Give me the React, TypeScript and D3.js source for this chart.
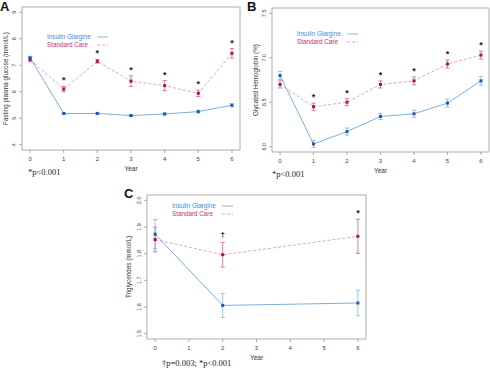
import React from "react";
import * as d3 from "d3";

const yearsAB = [0, 1, 2, 3, 4, 5, 6];
const yearsC = [0, 2, 6];

const aGlargine = [7.28, 5.18, 5.18, 5.1, 5.16, 5.25, 5.49];
const aGlargineErr = [0.06, 0.04, 0.04, 0.04, 0.04, 0.05, 0.06];
const aStandard = [7.21, 6.1, 7.15, 6.4, 6.23, 5.94, 7.45];
const aStandardErr = [0.08, 0.1, 0.07, 0.2, 0.19, 0.12, 0.18];
const aMarks = ["", "*", "*", "*", "*", "*", "*"];
const aTicks = [4, 5, 6, 7, 8, 9];

const bGlargine = [6.8, 6.03, 6.17, 6.34, 6.37, 6.49, 6.74];
const bGlargineErr = [0.045, 0.04, 0.04, 0.035, 0.04, 0.045, 0.05];
const bStandard = [6.7, 6.45, 6.5, 6.7, 6.74, 6.93, 7.03];
const bStandardErr = [0.04, 0.04, 0.04, 0.04, 0.045, 0.045, 0.045];
const bMarks = ["", "*", "*", "*", "*", "*", "*"];
const bTicks = [6.0, 6.5, 7.0, 7.5];

const cGlargine = [1.873, 1.606, 1.615];
const cGlargineErr = [0.055, 0.045, 0.048];
const cStandard = [1.853, 1.796, 1.865];
const cStandardErr = [0.046, 0.046, 0.064];
const cMarks = ["", "\u2020", "*"];
const cTicks = [1.5, 1.6, 1.7, 1.8, 1.9, 2.0];

const xTicks = [0, 1, 2, 3, 4, 5, 6];

const BLUE_LINE = "#6aa6d8";
const BLUE_PT = "#1f5aa6";
const BLUE_ERR = "#6aaee0";
const PINK_LINE = "#e08ab4";
const PINK_PT = "#a8125a";
const PINK_ERR = "#cc4a8a";
const SANS = "'Liberation Sans', Arial, sans-serif";
const SERIF = "'Liberation Serif', 'Times New Roman', serif";

type PanelProps = {
  letter: string;
  letterX: number;
  letterY: number;
  frame: { l: number; r: number; t: number; b: number };
  yMin: number;
  yMax: number;
  yTicks: number[];
  fmt: (v: number) => string;
  years: number[];
  ig: number[];
  igErr: number[];
  sc: number[];
  scErr: number[];
  marks: string[];
  yLabel: string;
  yLabelX: number;
  legendX: number;
  legendY: number;
  note: string;
  noteX: number;
  noteY: number;
};

function Panel(p: PanelProps) {
  const { l, r, t, b } = p.frame;
  const xPad = 6 * 0.04;
  const yPad = (p.yMax - p.yMin) * 0.04;
  const x = d3.scaleLinear().domain([0 - xPad, 6 + xPad]).range([l, r]);
  const y = d3.scaleLinear().domain([p.yMin - yPad, p.yMax + yPad]).range([b, t]);
  const line = d3
    .line<number>()
    .x((_, i) => x(p.years[i]))
    .y((d) => y(d));
  const cap = 2.2;
  const errBars = (vals: number[], errs: number[], color: string) =>
    vals.map((v, i) => {
      const cx = x(p.years[i]);
      const y1 = y(v + errs[i]);
      const y2 = y(v - errs[i]);
      return (
        <g key={"e" + color + i} stroke={color} strokeWidth={0.7}>
          <line x1={cx} x2={cx} y1={y1} y2={y2} />
          <line x1={cx - cap} x2={cx + cap} y1={y1} y2={y1} />
          <line x1={cx - cap} x2={cx + cap} y1={y2} y2={y2} />
        </g>
      );
    });
  const pts = (vals: number[], color: string) =>
    vals.map((v, i) => (
      <rect
        key={"p" + color + i}
        x={x(p.years[i]) - 1.5}
        y={y(v) - 1.5}
        width={3}
        height={3}
        fill={color}
      />
    ));
  const cy = (t + b) / 2;
  return (
    <g>
      <text x={p.letterX} y={p.letterY} fontFamily={SANS} fontWeight="bold" fontSize={13} fill="#111">
        {p.letter}
      </text>
      <rect x={l} y={t} width={r - l} height={b - t} fill="none" stroke="#9a9a9a" strokeWidth={0.8} />
      {p.yTicks.map((v) => (
        <g key={"yt" + v}>
          <line x1={l - 3} x2={l} y1={y(v)} y2={y(v)} stroke="#777" strokeWidth={0.6} />
          <text
            transform={`translate(${l - 6},${y(v)}) rotate(-90)`}
            textAnchor="middle"
            fontFamily={SANS}
            fontSize={5.5}
            fill="#444"
          >
            {p.fmt(v)}
          </text>
        </g>
      ))}
      {xTicks.map((v) => (
        <g key={"xt" + v}>
          <line x1={x(v)} x2={x(v)} y1={b} y2={b + 3} stroke="#777" strokeWidth={0.6} />
          <text x={x(v)} y={b + 11} textAnchor="middle" fontFamily={SANS} fontSize={6} fill="#444">
            {v}
          </text>
        </g>
      ))}
      <text x={(l + r) / 2} y={b + 21} textAnchor="middle" fontFamily={SANS} fontSize={6.5} fill="#333">
        Year
      </text>
      <text
        transform={`translate(${p.yLabelX},${cy}) rotate(-90)`}
        textAnchor="middle"
        fontFamily={SANS}
        fontSize={6.3}
        fill="#333"
      >
        {p.yLabel}
      </text>
      <path d={line(p.sc) || ""} fill="none" stroke={PINK_LINE} strokeWidth={0.8} strokeDasharray="3,2" />
      <path d={line(p.ig) || ""} fill="none" stroke={BLUE_LINE} strokeWidth={0.9} />
      {errBars(p.sc, p.scErr, PINK_ERR)}
      {errBars(p.ig, p.igErr, BLUE_ERR)}
      {pts(p.sc, PINK_PT)}
      {pts(p.ig, BLUE_PT)}
      {p.marks.map((m, i) =>
        m ? (
          <text
            key={"m" + i}
            x={x(p.years[i])}
            y={y(Math.max(p.sc[i] + p.scErr[i], p.ig[i] + p.igErr[i])) - (m === "*" ? 3 : 5)}
            textAnchor="middle"
            fontFamily={SANS}
            fontSize={m === "*" ? 9 : 8}
            fontWeight="bold"
            fill="#222"
          >
            {m}
          </text>
        ) : null
      )}
      <g fontFamily={SANS} fontSize={6.3}>
        <text x={p.legendX} y={p.legendY} fill="#3a8fd6">
          Insulin Glargine
        </text>
        <text x={p.legendX} y={p.legendY + 8} fill="#c0307a">
          Standard Care
        </text>
        <line
          x1={p.legendX + 50}
          x2={p.legendX + 61}
          y1={p.legendY - 2}
          y2={p.legendY - 2}
          stroke={BLUE_LINE}
          strokeWidth={0.8}
        />
        <line
          x1={p.legendX + 50}
          x2={p.legendX + 61}
          y1={p.legendY + 6}
          y2={p.legendY + 6}
          stroke={PINK_LINE}
          strokeWidth={0.8}
          strokeDasharray="3,2"
        />
      </g>
      <text x={p.noteX} y={p.noteY} fontFamily={SERIF} fontSize={8.5} fill="#222">
        {p.note}
      </text>
    </g>
  );
}

export default function App() {
  return (
    <svg
      width={490}
      height={370}
      style={{ position: "absolute", left: 0, top: 0, background: "#fff" }}
    >
      <Panel
        letter="A"
        letterX={0}
        letterY={11}
        frame={{ l: 22, r: 240, t: 7, b: 150 }}
        yMin={4}
        yMax={9}
        yTicks={aTicks}
        fmt={(v) => String(v)}
        years={yearsAB}
        ig={aGlargine}
        igErr={aGlargineErr}
        sc={aStandard}
        scErr={aStandardErr}
        marks={aMarks}
        yLabel="Fasting plasma glucose (mmol/L)"
        yLabelX={8}
        legendX={47}
        legendY={39}
        note="*p<0.001"
        noteX={28}
        noteY={175}
      />
      <Panel
        letter="B"
        letterX={247}
        letterY={11}
        frame={{ l: 272, r: 489, t: 8, b: 152 }}
        yMin={6}
        yMax={7.5}
        yTicks={bTicks}
        fmt={(v) => v.toFixed(1)}
        years={yearsAB}
        ig={bGlargine}
        igErr={bGlargineErr}
        sc={bStandard}
        scErr={bStandardErr}
        marks={bMarks}
        yLabel="Glycated Hemoglobin (%)"
        yLabelX={258}
        legendX={297}
        legendY={36}
        note="*p<0.001"
        noteX={272}
        noteY={177}
      />
      <Panel
        letter="C"
        letterX={124}
        letterY={198}
        frame={{ l: 147, r: 366, t: 195, b: 339 }}
        yMin={1.5}
        yMax={2.0}
        yTicks={cTicks}
        fmt={(v) => v.toFixed(1)}
        years={yearsC}
        ig={cGlargine}
        igErr={cGlargineErr}
        sc={cStandard}
        scErr={cStandardErr}
        marks={cMarks}
        yLabel="Triglycerides (mmol/L)"
        yLabelX={131}
        legendX={172}
        legendY={208}
        note={"\u2020p=0.003; *p<0.001"}
        noteX={162}
        noteY={366}
      />
    </svg>
  );
}
